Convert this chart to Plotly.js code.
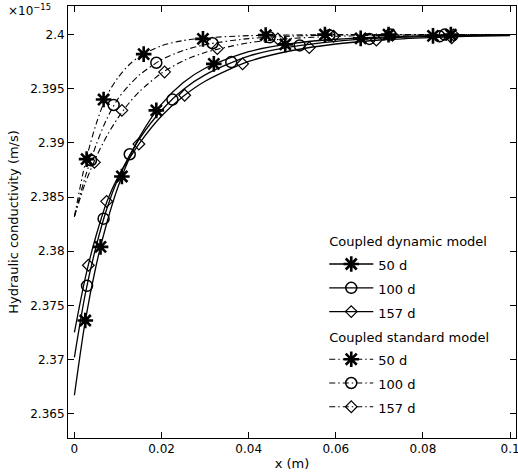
<!DOCTYPE html>
<html>
<head>
<meta charset="utf-8">
<script src="https://cdn.plot.ly/plotly-3.0.1.min.js"></script>
<style>html,body{margin:0;padding:0;background:#fff;}</style>
</head>
<body>
<div id="chart" style="width:518px;height:476px;"></div>
<script>
// Curve sample positions (m)
const xCurve = [0, 0.0025, 0.005, 0.0075, 0.01, 0.0125, 0.015, 0.02, 0.025, 0.03, 0.04, 0.05, 0.06, 0.07, 0.08, 0.09, 0.1];

// Hydraulic conductivity (x1e-15 m/s), coupled dynamic model
const dyn50  = [2.3667, 2.37357, 2.3787, 2.3827, 2.38592, 2.38849, 2.39058, 2.39358, 2.39557, 2.39689, 2.39842, 2.39918, 2.39957, 2.39977, 2.39988, 2.39994, 2.39997];
const dyn100 = [2.3702, 2.37606, 2.38047, 2.38399, 2.38668, 2.38873, 2.39042, 2.39301, 2.39494, 2.39628, 2.39802, 2.39888, 2.39938, 2.39967, 2.39982, 2.3999, 2.39995];
const dyn157 = [2.3725, 2.37754, 2.38147, 2.38462, 2.38684, 2.38848, 2.39001, 2.39248, 2.3943, 2.39569, 2.39752, 2.39853, 2.39913, 2.3995, 2.3997, 2.39983, 2.3999];

// Coupled standard model
const std50  = [2.3832, 2.38815, 2.39176, 2.3944, 2.39603, 2.39719, 2.398, 2.39897, 2.39945, 2.39969, 2.3999, 2.39996, 2.4, 2.4, 2.4, 2.4, 2.4];
const std100 = [2.3832, 2.38688, 2.38983, 2.39228, 2.39407, 2.3953, 2.3963, 2.39768, 2.39853, 2.39907, 2.39963, 2.39986, 2.39995, 2.4, 2.4, 2.4, 2.4];
const std157 = [2.3832, 2.3863, 2.3887, 2.39068, 2.39231, 2.39366, 2.39477, 2.39644, 2.39758, 2.39835, 2.39924, 2.39965, 2.39984, 2.39993, 2.39997, 2.4, 2.4];

// Marker locations
const dyn50MX  = [0.0025, 0.006, 0.0109, 0.0188, 0.032, 0.0484, 0.0657, 0.0823];
const dyn50MY  = [2.3736, 2.3804, 2.3869, 2.3930, 2.3973, 2.3991, 2.39965, 2.39988];
const dyn100MX = [0.0029, 0.0067, 0.0127, 0.0225, 0.036, 0.0517, 0.0677, 0.0838];
const dyn100MY = [2.3768, 2.3830, 2.38895, 2.3940, 2.39746, 2.3990, 2.3996, 2.39984];
const dyn157MX = [0.0032, 0.0074, 0.0148, 0.0253, 0.0386, 0.0539, 0.0693, 0.0866];
const dyn157MY = [2.3787, 2.3846, 2.3899, 2.3944, 2.3973, 2.3988, 2.3995, 2.3997];
const std50MX  = [0.0028, 0.0067, 0.0159, 0.0295, 0.0439, 0.0575, 0.0721, 0.0864];
const std50MY  = [2.3885, 2.3940, 2.3982, 2.3996, 2.39995, 2.4, 2.4, 2.4];
const std100MX = [0.0038, 0.009, 0.0188, 0.0317, 0.0448, 0.0585, 0.0725, 0.085];
const std100MY = [2.3884, 2.3935, 2.3974, 2.3992, 2.39975, 2.39995, 2.4, 2.4];
const std157MX = [0.0046, 0.0109, 0.0207, 0.0328, 0.0467, 0.0595, 0.073, 0.087];
const std157MY = [2.3882, 2.3930, 2.39655, 2.3987, 2.3996, 2.39984, 2.39993, 2.39997];

const seriesNames = ['50 d', '100 d', '157 d'];
const groupTitles = ['Coupled dynamic model', 'Coupled standard model'];
const xTicks = [0, 0.02, 0.04, 0.06, 0.08, 0.1];

const FONT = 'DejaVu Sans, Verdana, sans-serif';
const symbols = [
  {symbol: 'asterisk-open', size: 13, lw: 2.6},
  {symbol: 'circle-open', size: 11, lw: 1.5},
  {symbol: 'diamond-open', size: 9, lw: 1.2}
];

const groups = [
  {id: 'dyn', dash: 'solid', width: 1.3, curves: [dyn50, dyn100, dyn157],
   mx: [dyn50MX, dyn100MX, dyn157MX], my: [dyn50MY, dyn100MY, dyn157MY]},
  {id: 'std', dash: '6px,3px,1.5px,3px', width: 1.1, curves: [std50, std100, std157],
   mx: [std50MX, std100MX, std157MX], my: [std50MY, std100MY, std157MY]}
];

const traces = [];
groups.forEach((g, gi) => {
  g.curves.forEach((yv, i) => {
    traces.push({
      x: xCurve, y: yv, type: 'scatter', mode: 'lines',
      line: {color: 'black', width: g.width, dash: g.dash, shape: 'spline', smoothing: 0.8},
      showlegend: false, legendgroup: g.id, hoverinfo: 'skip'
    });
    traces.push({
      x: g.mx[i], y: g.my[i], type: 'scatter', mode: 'markers',
      marker: {symbol: symbols[i].symbol, size: symbols[i].size, color: 'black',
               line: {color: 'black', width: symbols[i].lw}},
      showlegend: false, legendgroup: g.id, hoverinfo: 'skip'
    });
  });
});
// Legend entries
groups.forEach((g, gi) => {
  seriesNames.forEach((nm, i) => {
    traces.push({
      x: [null], y: [null], type: 'scatter', mode: 'lines+markers',
      name: '<span style="font-size:13px">' + nm + '</span>',
      legendgroup: g.id,
      legendgrouptitle: {text: '<span style="font-size:13px">' + groupTitles[gi] + '</span>', font: {size: 16, family: FONT, color: 'black'}},
      line: {color: 'black', width: g.width, dash: g.dash},
      marker: {symbol: symbols[i].symbol, size: symbols[i].size, color: 'black',
               line: {color: 'black', width: symbols[i].lw}}
    });
  });
});

const layout = {
  width: 518, height: 476,
  margin: {l: 68, r: 2, t: 6, b: 38},
  paper_bgcolor: 'white', plot_bgcolor: 'white',
  font: {family: FONT, size: 12, color: 'black'},
  showlegend: true,
  legend: {
    x: 0.572, y: 0.497, xanchor: 'left', yanchor: 'top',
    bgcolor: 'rgba(255,255,255,0)', borderwidth: 0,
    font: {family: FONT, size: 16, color: 'black'},
    tracegroupgap: 0, itemsizing: 'trace', traceorder: 'grouped', itemwidth: 44
  },
  xaxis: {
    range: [-0.00147, 0.10135], tickvals: xTicks, ticktext: xTicks.map(String),
    ticks: 'inside', ticklen: 6, tickwidth: 1, tickcolor: 'black',
    showline: true, linecolor: 'black', linewidth: 1, mirror: 'allticks',
    showgrid: false, zeroline: false, ticklabeloverflow: 'allow',
    tickfont: {family: FONT, size: 12, color: 'black'},
    title: {text: 'x (m)', font: {family: FONT, size: 13, color: 'black'}, standoff: 3}
  },
  yaxis: {
    range: [2.36275, 2.40264], tick0: 2.365, dtick: 0.005,
    ticks: 'inside', ticklen: 6, tickwidth: 1, tickcolor: 'black',
    showline: true, linecolor: 'black', linewidth: 1, mirror: 'allticks',
    showgrid: false, zeroline: false,
    tickfont: {family: FONT, size: 12, color: 'black'},
    title: {text: 'Hydraulic conductivity (m/s)', font: {family: FONT, size: 13, color: 'black'}, standoff: 8}
  },
  annotations: [{
    xref: 'paper', yref: 'paper', x: -0.033, y: 1.014, xanchor: 'right', yanchor: 'top',
    text: '×10<sup>−15</sup>', showarrow: false,
    font: {family: FONT, size: 12, color: 'black'}
  }]
};

Plotly.newPlot('chart', traces, layout, {displayModeBar: false, staticPlot: true});
</script>
</body>
</html>
